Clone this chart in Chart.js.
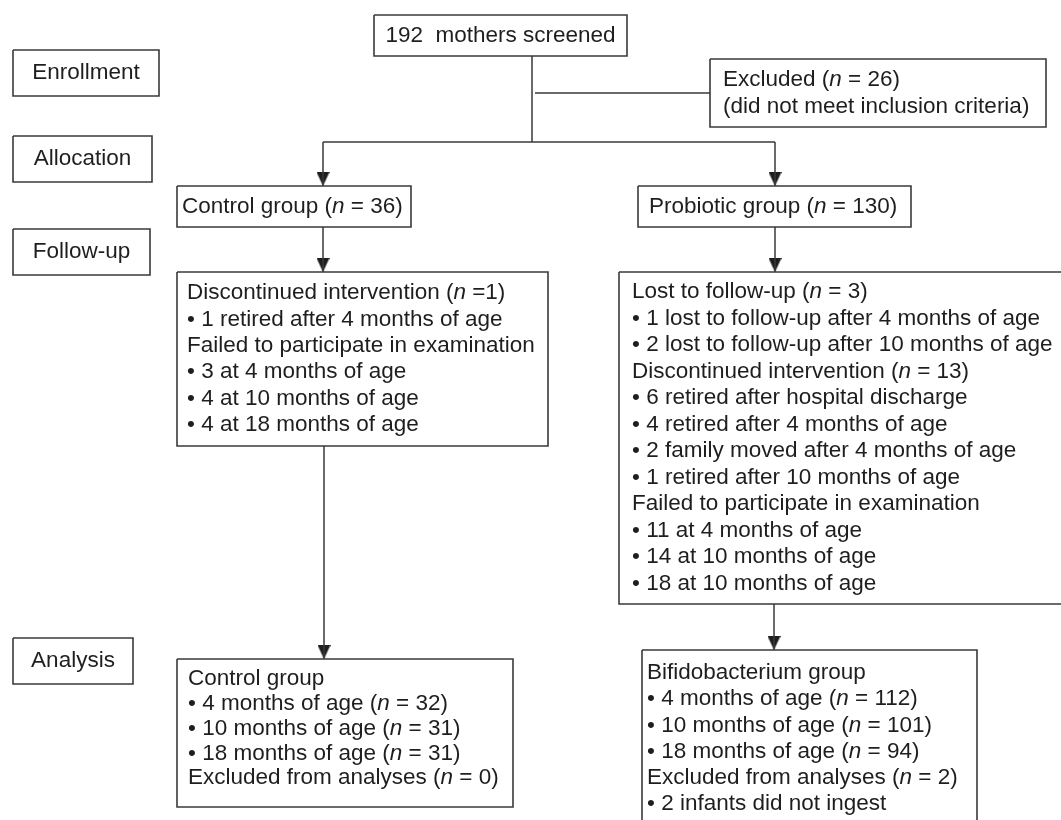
<!DOCTYPE html>
<html lang="en">
<head>
<meta charset="UTF-8">
<title>Study flow diagram</title>
<script src="https://cdn.jsdelivr.net/npm/chart.js"></script>
<style>
  html, body { margin: 0; padding: 0; background: #fff; }
  #wrap { width: 1061px; height: 820px; }
</style>
</head>
<body>
<div id="wrap"><canvas id="chart"></canvas></div>
<script>
// texts of the diagram, _n_ marks an italic n
const stages = ['Enrollment', 'Allocation', 'Follow-up', 'Analysis'];
const screenedText = ['192  mothers screened'];
const excludedText = ['Excluded (_n_ = 26)', '(did not meet inclusion criteria)'];
const controlText = ['Control group (_n_ = 36)'];
const probioticText = ['Probiotic group (_n_ = 130)'];
const controlFollowUp = [
    'Discontinued intervention (_n_ =1)',
    '\u2022 1 retired after 4 months of age',
    'Failed to participate in examination',
    '\u2022 3 at 4 months of age',
    '\u2022 4 at 10 months of age',
    '\u2022 4 at 18 months of age'
];
const probioticFollowUp = [
    'Lost to follow-up (_n_ = 3)',
    '\u2022 1 lost to follow-up after 4 months of age',
    '\u2022 2 lost to follow-up after 10 months of age',
    'Discontinued intervention (_n_ = 13)',
    '\u2022 6 retired after hospital discharge',
    '\u2022 4 retired after 4 months of age',
    '\u2022 2 family moved after 4 months of age',
    '\u2022 1 retired after 10 months of age',
    'Failed to participate in examination',
    '\u2022 11 at 4 months of age',
    '\u2022 14 at 10 months of age',
    '\u2022 18 at 10 months of age'
];
const controlAnalysis = [
    'Control group',
    '\u2022 4 months of age (_n_ = 32)',
    '\u2022 10 months of age (_n_ = 31)',
    '\u2022 18 months of age (_n_ = 31)',
    'Excluded from analyses (_n_ = 0)'
];
const bifidoAnalysis = [
    'Bifidobacterium group',
    '\u2022 4 months of age (_n_ = 112)',
    '\u2022 10 months of age (_n_ = 101)',
    '\u2022 18 months of age (_n_ = 94)',
    'Excluded from analyses (_n_ = 2)',
    '\u2022 2 infants did not ingest'
];

// layout in page units: box corners, text start, first line, line height
const layout = [
    { lines: [stages[0]], box: [13, 50, 159, 96], center: true, y: 73 },
    { lines: [stages[1]], box: [13, 136, 152, 182], center: true, y: 159 },
    { lines: [stages[2]], box: [13, 229, 150, 275], center: true, y: 252 },
    { lines: [stages[3]], box: [13, 638, 133, 684], center: true, y: 661 },
    { lines: screenedText, box: [374, 15, 627, 56], center: true, y: 36 },
    { lines: excludedText, box: [710, 59, 1046, 127], x: 723, y: 80, lh: 27 },
    { lines: controlText, box: [177, 186, 411, 227], x: 182, y: 207 },
    { lines: probioticText, box: [638, 186, 911, 227], x: 649, y: 207 },
    { lines: controlFollowUp, box: [177, 272, 548, 446], x: 187, y: 293, lh: 26.4 },
    { lines: probioticFollowUp, box: [619, 272, 1070, 604], x: 632, y: 292, lh: 26.5 },
    { lines: controlAnalysis, box: [177, 659, 513, 807], x: 188, y: 679, lh: 24.8 },
    { lines: bifidoAnalysis, box: [642, 650, 977, 840], x: 647, y: 673, lh: 26.2 }
];

// connector paths
const connectors = [
    [[532, 56], [532, 142]],
    [[323, 142], [775, 142]],
    [[535, 93], [710, 93]],
    [[323, 142], [323, 186]],
    [[775, 142], [775, 186]],
    [[323, 227], [323, 272]],
    [[775, 227], [775, 272]],
    [[324, 446], [324, 659]],
    [[774, 604], [774, 650]]
];
const arrowTips = [[323, 186], [775, 186], [323, 272], [775, 272], [324, 659], [774, 650]];

const FONT = 'px "Liberation Sans", Arial, Helvetica, sans-serif';
const fontSize = 22.5;
const inkColor = '#1e1e1e';
const lineColor = '#3a3a3a';

// arrow head image used as point style
const head = document.createElement('canvas');
head.width = 13; head.height = 14;
(function () {
    const c = head.getContext('2d');
    c.fillStyle = '#1e1e1e';
    c.beginPath();
    c.moveTo(0, 0); c.lineTo(13, 0); c.lineTo(6.5, 14); c.closePath();
    c.fill();
})();

function rectPath(b) {
    return [
        { x: b[0], y: b[1] }, { x: b[2], y: b[1] },
        { x: b[2], y: b[3] }, { x: b[0], y: b[3] }, { x: b[0], y: b[1] }
    ];
}

const datasets = [];
connectors.forEach(function (p) {
    datasets.push({
        data: p.map(function (q) { return { x: q[0], y: q[1] }; }),
        showLine: true, borderColor: lineColor, borderWidth: 1.5,
        pointRadius: 0, tension: 0, clip: false
    });
});
layout.forEach(function (item) {
    datasets.push({
        data: rectPath(item.box),
        showLine: true, borderColor: lineColor, borderWidth: 1.6,
        borderJoinStyle: 'miter', pointRadius: 0, tension: 0
    });
});
datasets.push({
    data: arrowTips.map(function (t) { return { x: t[0], y: t[1] - 7 }; }),
    showLine: false, pointStyle: head, pointRadius: 7, clip: false
});

function drawRich(ctx, str, x, y) {
    const parts = str.split('_');
    parts.forEach(function (s, i) {
        ctx.font = (i % 2 ? 'italic ' : '') + fontSize + FONT;
        ctx.fillText(s, x, y);
        x += ctx.measureText(s).width;
    });
}

function richWidth(ctx, str) {
    let w = 0;
    str.split('_').forEach(function (s, i) {
        ctx.font = (i % 2 ? 'italic ' : '') + fontSize + FONT;
        w += ctx.measureText(s).width;
    });
    return w;
}

const textPlugin = {
    id: 'boxText',
    afterDatasetsDraw(chart) {
        const ctx = chart.ctx;
        const xs = chart.scales.x, ys = chart.scales.y;
        ctx.save();
        ctx.fillStyle = inkColor;
        ctx.textBaseline = 'middle';
        ctx.textAlign = 'left';
        layout.forEach(function (item) {
            item.lines.forEach(function (line, i) {
                const py = ys.getPixelForValue(item.y + i * (item.lh || 0));
                let px;
                if (item.center) {
                    const mid = (item.box[0] + item.box[2]) / 2;
                    px = xs.getPixelForValue(mid) - richWidth(ctx, line) / 2;
                } else {
                    px = xs.getPixelForValue(item.x);
                }
                drawRich(ctx, line, px, py);
            });
        });
        ctx.restore();
    }
};

new Chart(document.getElementById('chart'), {
    type: 'scatter',
    data: { datasets: datasets },
    options: {
        responsive: true,
        maintainAspectRatio: false,
        animation: false,
        layout: { padding: 0, autoPadding: false },
        plugins: { legend: { display: false }, tooltip: { enabled: false } },
        scales: {
            x: { type: 'linear', min: 0, max: 1061, display: false },
            y: { type: 'linear', min: 0, max: 820, reverse: true, display: false }
        }
    },
    plugins: [textPlugin]
});
</script>
</body>
</html>
